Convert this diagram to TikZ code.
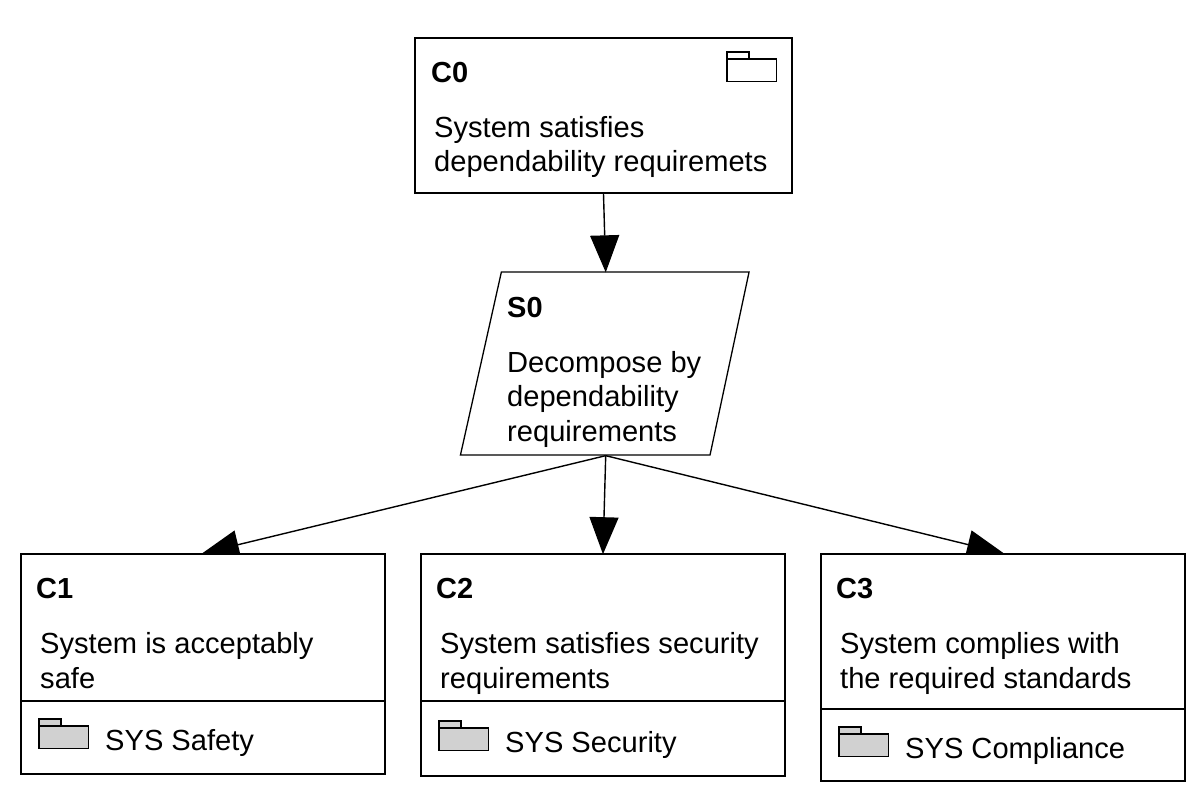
\documentclass[tikz,border=0pt]{standalone}
\usepackage{fontspec}
\setmainfont{Liberation Sans}
\usetikzlibrary{shapes.geometric,arrows.meta}
\tikzset{
  gbox/.style={draw=black,line width=1.6pt,fill=white,rectangle,inner sep=0pt},
  strat/.style={draw=black,line width=1.3pt,fill=white,shape=trapezium,trapezium left angle=78.9,trapezium right angle=100.6,trapezium stretches=true,inner sep=0pt,minimum width=290pt,minimum height=183pt},
  idtext/.style={anchor=base west,inner sep=0pt,font=\fontsize{29}{29}\selectfont\bfseries},
  bodytext/.style={anchor=north west,inner sep=0pt,align=left,font=\fontsize{29.1}{34.6}\selectfont},
  modtext/.style={anchor=base west,inner sep=0pt,font=\fontsize{29.1}{32}\selectfont},
  link/.style={draw=black,line width=1.4pt,-{Triangle[length=37pt,width=29pt]},shorten >=-1pt},
  foldergray/.style={draw=black,line width=1.4pt,fill=black!18},
  folderwhite/.style={draw=black,line width=1.4pt,fill=white},
  sep/.style={draw=black,line width=1.2pt},
}
\newcommand{\folderat}[3]{%
  \draw[#3] (#1,#2+7) rectangle (#1+22,#2);
  \draw[#3] (#1,#2+7) rectangle (#1+49.5,#2+29.5);
}
\begin{document}
\begin{tikzpicture}[x=1pt,y=-1pt]
\useasboundingbox (0,0) rectangle (1200,800);
\fill[white] (0,0) rectangle (1200,800);
\node[gbox,minimum width=377pt,minimum height=155pt] (c0) at (603.5,115.5) {};
\node[gbox,minimum width=364pt,minimum height=220pt] (c1) at (203,664) {};
\node[gbox,minimum width=364pt,minimum height=222pt] (c2) at (603,665) {};
\node[gbox,minimum width=364pt,minimum height=227pt] (c3) at (1003,667.5) {};
\node[strat] (s0) at (605.7,363.5) {\phantom{\rule{50pt}{50pt}}};
\draw[link] (c0.south) -- (s0.north);
\draw[link] (s0.south) -- (c1.north);
\draw[link] (s0.south) -- (c2.north);
\draw[link] (s0.south) -- (c3.north);
% boxes C1 and C3 again, so that the slanted heads are cut at the box edge
\fill[white] (21,554) rectangle (385,774);
\fill[white] (821,554) rectangle (1185,781);
\draw[draw=black,line width=1.6pt] (21,554) rectangle (385,774);
\draw[draw=black,line width=1.6pt] (821,554) rectangle (1185,781);
% C0
\node[idtext] (c0id) at (431,82) {C0};
\node[bodytext] (c0body) at (434,116) {System satisfies\\dependability requiremets};
\folderat{727}{52}{folderwhite}
% S0
\node[idtext] (s0id) at (507,317) {S0};
\node[bodytext] (s0body) at (507,351) {Decompose by\\dependability\\requirements};
% C1
\node[idtext] (c1id) at (36,598) {C1};
\node[bodytext] (c1body) at (40,632.5) {System is acceptably\\safe};
\draw[sep] (c1.west |- 0,701) -- (c1.east |- 0,701);
\folderat{39}{719}{foldergray}
\node[modtext] (c1mod) at (105,750) {SYS Safety};
% C2
\node[idtext] (c2id) at (436,598) {C2};
\node[bodytext] (c2body) at (440,632.5) {System satisfies security\\requirements};
\draw[sep] (c2.west |- 0,701) -- (c2.east |- 0,701);
\folderat{439}{721}{foldergray}
\node[modtext] (c2mod) at (505,752) {SYS Security};
% C3
\node[idtext] (c3id) at (836,598) {C3};
\node[bodytext] (c3body) at (840,632.5) {System complies with\\the required standards};
\draw[sep] (c3.west |- 0,709) -- (c3.east |- 0,709);
\folderat{839}{727}{foldergray}
\node[modtext] (c3mod) at (905,758) {SYS Compliance};
\end{tikzpicture}
\end{document}
